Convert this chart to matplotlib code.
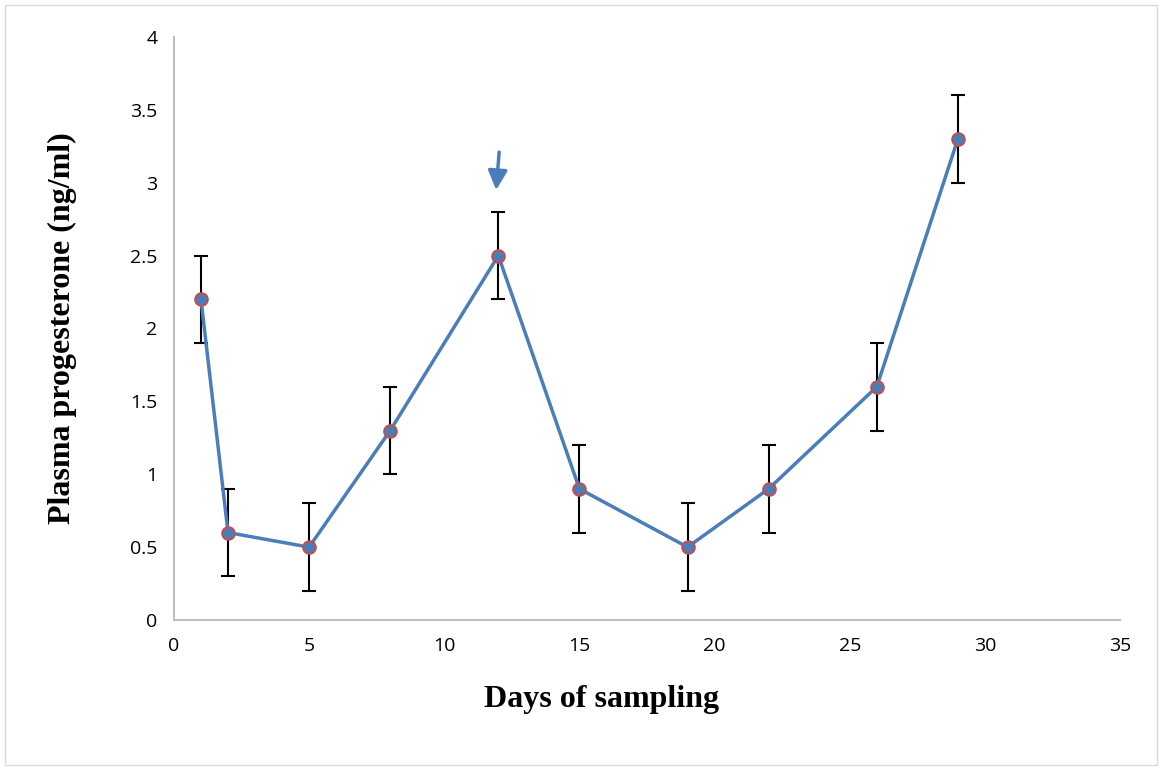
import numpy as np
import matplotlib
matplotlib.use('Agg')
from matplotlib import pyplot as plt
from matplotlib.patches import Rectangle

days = [1, 2, 5, 8, 12, 15, 19, 22, 26, 29]
progesterone = [2.2, 0.6, 0.5, 1.3, 2.5, 0.9, 0.5, 0.9, 1.6, 3.3]
errors = [0.3, 0.3, 0.3, 0.3, 0.3, 0.3, 0.3, 0.3, 0.3, 0.3]
xticks = [0, 5, 10, 15, 20, 25, 30, 35]
yticks = [0, 0.5, 1, 1.5, 2, 2.5, 3, 3.5, 4]
yticklabels = ['0', '0.5', '1', '1.5', '2', '2.5', '3', '3.5', '4']

lineColor = '#4A7EBB'
edgeColor = '#C0504D'
axisColor = '#BFBFBF'
tickFont = 'Open Sans'
labelFont = 'Liberation Serif'

fig = plt.figure(figsize=(11.62, 7.7), dpi=100)
fig.patches.append(Rectangle((0.004, 0.006), 0.992, 0.988, transform=fig.transFigure,
                             fill=False, ec='#D9D9D9', lw=1))
ax = fig.add_axes([0.1497, 0.1948, 0.8142, 0.7572])

ax.errorbar(days, progesterone, yerr=errors, fmt='none', ecolor='black',
            elinewidth=1.5, capsize=5, capthick=1.5, zorder=2)
ax.plot(days, progesterone, '-', color=lineColor, lw=2.5, zorder=3)
ax.plot(days, progesterone, 'o', ms=9, mfc=lineColor, mec=edgeColor, mew=1.5, zorder=4)

# arrow marking day 12
ax.annotate('', xy=(11.92, 2.95), xytext=(12.03, 3.21),
            arrowprops=dict(arrowstyle='-|>', color=lineColor, lw=2.5,
                            mutation_scale=29, shrinkA=0, shrinkB=0))

ax.set_xlim(0, 35)
ax.set_ylim(0, 4)
ax.set_xticks(xticks)
ax.set_yticks(yticks)
ax.set_yticklabels(yticklabels)
ax.tick_params(length=0, labelsize=14, pad=12)
for lab in ax.get_xticklabels() + ax.get_yticklabels():
    lab.set_fontfamily(tickFont)
for side in ['top', 'right']:
    ax.spines[side].set_visible(False)
for side in ['left', 'bottom']:
    ax.spines[side].set_color(axisColor)
    ax.spines[side].set_linewidth(1.5)

ax.set_xlabel('Days of sampling', fontsize=23, fontweight='bold',
              family=labelFont, labelpad=22)
ax.xaxis.label.set_x(0.4524)
ax.set_ylabel('Plasma progesterone (ng/ml)', fontsize=23, fontweight='bold',
              family=labelFont, labelpad=38)

fig.savefig('out.png', dpi=100, facecolor='w')
